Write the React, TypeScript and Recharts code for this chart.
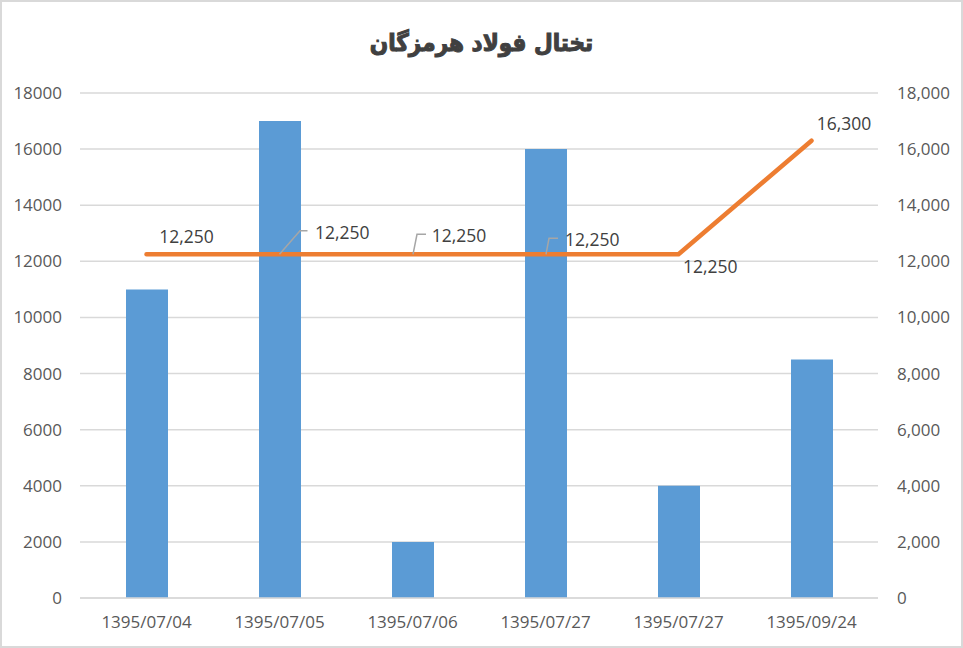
import React from 'react';
import { ComposedChart, Bar, Line, XAxis, YAxis, CartesianGrid, LabelList } from 'recharts';

const title = 'تختال فولاد هرمزگان';
const categories = ['1395/07/04', '1395/07/05', '1395/07/06', '1395/07/27', '1395/07/27', '1395/09/24'];
const volumes = [11000, 17000, 2000, 16000, 4000, 8500];
const prices = [12250, 12250, 12250, 12250, 12250, 16300];
const tickValues = [0, 2000, 4000, 6000, 8000, 10000, 12000, 14000, 16000, 18000];

const data = categories.map((name, i) => ({ name, volume: volumes[i], price: prices[i] }));

// label placement (offset of text start / baseline from the point, optional leader)
const labelLayout = [
  { dx: 12.8, dy: -11, leader: null },
  { dx: 35.5, dy: -15.3, leader: [[0, 0], [20.5, -23.5], [28, -23.5]] },
  { dx: 19.2, dy: -12.6, leader: [[0.5, 0], [4.5, -20], [13.5, -20]] },
  { dx: 19.5, dy: -8.6, leader: [[0.5, 0], [3.5, -16], [12.5, -16]] },
  { dx: 4.5, dy: 18.4, leader: null },
  { dx: 5.2, dy: -10.8, leader: null },
];

const fmt = (v: number) => v.toLocaleString('en-US');
const FONT = '"Open Sans", sans-serif';

const PriceLabel = (props: any) => {
  const { x, y, value, index } = props;
  const l = labelLayout[index];
  if (!l) return null;
  return (
    <g>
      {l.leader && (
        <path
          d={l.leader.map((p: number[], k: number) => `${k === 0 ? 'M' : 'L'}${x + p[0]},${y + p[1]}`).join(' ')}
          stroke="#A6A6A6"
          strokeWidth={1.5}
          fill="none"
        />
      )}
      <text x={x + l.dx} y={y + l.dy} fill="#404040" fontSize={17.5} fontFamily={FONT} textAnchor="start">
        {fmt(value)}
      </text>
    </g>
  );
};

export default function App() {
  return (
    <div style={{ position: 'absolute', left: 0, top: 0, width: 963, height: 648, background: '#fff' }}>
      <ComposedChart
        width={963}
        height={648}
        data={data}
        margin={{ top: 93, right: 0, bottom: 0, left: 0 }}
      >
        <CartesianGrid vertical={false} stroke="#D9D9D9" strokeWidth={1.5} yAxisId="left" />
        <XAxis
          dataKey="name"
          height={50}
          axisLine={{ stroke: '#D9D9D9', strokeWidth: 1.5 }}
          tickLine={false}
          tickSize={0}
          tickMargin={18}
          tick={{ fill: '#595959', fontSize: 17, fontFamily: FONT }}
          interval={0}
        />
        <YAxis
          yAxisId="left"
          orientation="left"
          width={80}
          domain={[0, 18000]}
          ticks={tickValues}
          axisLine={false}
          tickLine={false}
          tickSize={0}
          tickMargin={18}
          tick={{ fill: '#595959', fontSize: 17, fontFamily: FONT }}
        />
        <YAxis
          yAxisId="right"
          orientation="right"
          width={85}
          domain={[0, 18000]}
          ticks={tickValues}
          axisLine={false}
          tickLine={false}
          tickSize={0}
          tickMargin={19}
          tickFormatter={fmt}
          tick={{ fill: '#595959', fontSize: 17, fontFamily: FONT, textAnchor: 'start' }}
        />
        <Bar yAxisId="left" dataKey="volume" fill="#5B9BD5" barSize={42} isAnimationActive={false} />
        <Line
          yAxisId="right"
          dataKey="price"
          stroke="#ED7D31"
          strokeWidth={4.5}
          strokeLinecap="round"
          dot={false}
          activeDot={false}
          isAnimationActive={false}
        >
          <LabelList dataKey="price" content={<PriceLabel />} />
        </Line>
      </ComposedChart>
      <div
        style={{
          position: 'absolute',
          left: 0,
          top: 22,
          width: 963,
          textAlign: 'center',
          fontFamily: '"DejaVu Sans Condensed", "DejaVu Sans", sans-serif',
          fontStretch: 'condensed',
          fontWeight: 'bold',
          fontSize: 24,
          color: '#404040',
          WebkitTextStroke: '1px #404040',
          direction: 'rtl',
          lineHeight: '42px',
        }}
      >
        {title}
      </div>
      <div
        style={{
          position: 'absolute',
          left: 0,
          top: 0,
          width: 963,
          height: 648,
          boxSizing: 'border-box',
          border: '2px solid #D9D9D9',
          pointerEvents: 'none',
        }}
      />
    </div>
  );
}
